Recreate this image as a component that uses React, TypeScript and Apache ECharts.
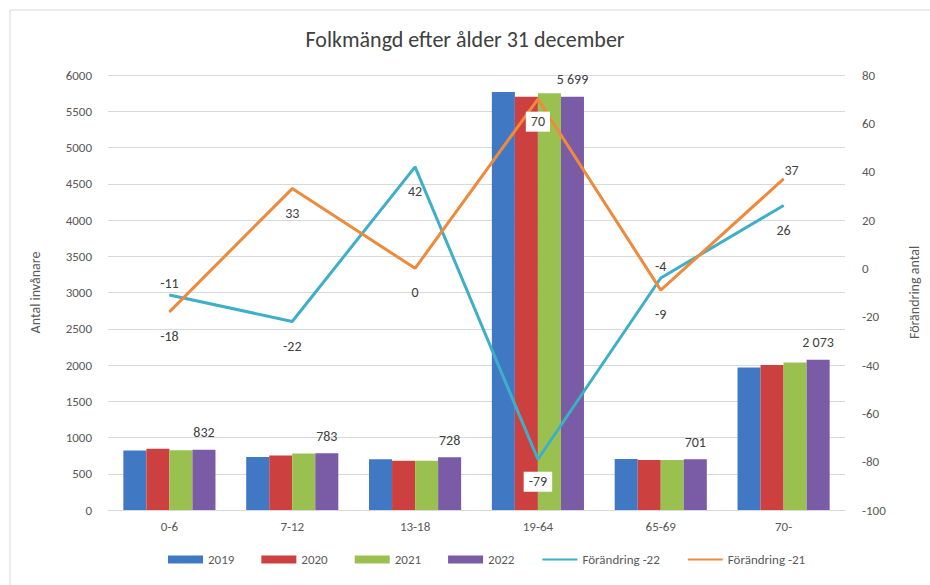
import React, { useEffect, useRef } from "react";
import * as echarts from "echarts";

const categories = ["0-6", "7-12", "13-18", "19-64", "65-69", "70-"];
const y2019 = [822, 730, 700, 5765, 705, 1965];
const y2020 = [845, 752, 680, 5700, 690, 2000];
const y2021 = [825, 780, 680, 5750, 690, 2035];
const y2022 = [832, 783, 728, 5699, 701, 2073];
const change22 = [-11, -22, 42, -79, -4, 26];
const change21 = [-18, 33, 0, 70, -9, 37];
const pos22 = ["top", "bottom", "bottom", "boxed", "top", "bottom"];
const pos21 = ["bottom", "bottom", "bottom", "boxed", "bottom", "topright"];

const FONT = "Carlito, Lato, sans-serif";
const TXT = "#404040";

function fmtThousands(v: number): string {
  return String(v).replace(/\B(?=(\d{3})+(?!\d))/g, " ");
}

function lineData(values: number[], positions: string[]) {
  return values.map((v, i) => {
    const p = positions[i];
    if (p === "boxed") {
      return {
        value: v,
        label: {
          position: "bottom",
          distance: 12,
          backgroundColor: "#ffffff",
          padding: [3, 5],
        },
      };
    }
    if (p === "top") {
      return { value: v, label: { position: "top", distance: 4 } };
    }
    if (p === "topright") {
      return { value: v, label: { position: "top", distance: 1, offset: [8, 0] } };
    }
    return { value: v, label: { position: "bottom", distance: 17 } };
  });
}

export default function App() {
  const ref = useRef<HTMLDivElement>(null);
  useEffect(() => {
    if (!ref.current) return;
    const chart = echarts.init(ref.current, null, { renderer: "svg" });
    const barSeries = (name: string, data: number[], color: string, withLabel: boolean) => ({
      name,
      type: "bar",
      data,
      yAxisIndex: 0,
      barGap: "0%",
      barCategoryGap: "25%",
      itemStyle: { color },
      label: withLabel
        ? {
            show: true,
            position: "top",
            distance: 10,
            color: TXT,
            fontSize: 14,
            fontFamily: FONT,
            formatter: (p: any) => fmtThousands(p.value),
          }
        : { show: false },
    });
    const lineSeries = (name: string, values: number[], positions: string[], color: string) => ({
      name,
      type: "line",
      yAxisIndex: 1,
      data: lineData(values, positions),
      symbol: "circle",
      symbolSize: 1,
      showSymbol: true,
      lineStyle: { color, width: 3 },
      itemStyle: { color },
      label: { show: true, color: TXT, fontSize: 14, fontFamily: FONT },
      z: 5,
    });
    chart.setOption({
      animation: false,
      backgroundColor: "#ffffff",
      textStyle: { fontFamily: FONT },
      title: {
        text: "Folkmängd efter ålder 31 december",
        left: "center",
        top: 23,
        textStyle: { color: TXT, fontSize: 22, fontWeight: "normal", fontFamily: FONT },
      },
      graphic: [
        {
          type: "rect",
          shape: { x: 10, y: 10, width: 940, height: 600 },
          style: { fill: "none", stroke: "#d9d9d9", lineWidth: 1 },
          silent: true,
        },
      ],
      grid: { left: 108, right: 85, top: 75, bottom: 75 },
      legend: {
        bottom: 14,
        left: 163,
        itemWidth: 35,
        itemHeight: 8,
        itemGap: 27,
        textStyle: { color: "#595959", fontSize: 13, fontFamily: FONT },
        data: [
          { name: "2019", icon: "rect" },
          { name: "2020", icon: "rect" },
          { name: "2021", icon: "rect" },
          { name: "2022", icon: "rect" },
          { name: "Förändring -22", itemStyle: { opacity: 0 } },
          { name: "Förändring -21", itemStyle: { opacity: 0 } },
        ],
      },
      xAxis: {
        type: "category",
        data: categories,
        axisLine: { lineStyle: { color: "#d9d9d9" } },
        axisTick: { show: false },
        axisLabel: { color: "#595959", fontSize: 13, margin: 10, fontFamily: FONT },
      },
      yAxis: [
        {
          type: "value",
          min: 0,
          max: 6000,
          interval: 500,
          name: "Antal invånare",
          nameLocation: "middle",
          nameGap: 66,
          nameRotate: 90,
          nameTextStyle: { color: "#595959", fontSize: 14, fontFamily: FONT },
          axisLine: { show: false },
          axisTick: { show: false },
          axisLabel: {
            color: "#595959",
            fontSize: 13,
            margin: 16,
            fontFamily: FONT,
            formatter: (v: number) => String(v),
          },
          splitLine: { lineStyle: { color: "#d9d9d9" } },
        },
        {
          type: "value",
          min: -100,
          max: 80,
          interval: 20,
          position: "right",
          name: "Förändring antal",
          nameLocation: "middle",
          nameGap: 62,
          nameRotate: 90,
          nameTextStyle: { color: "#595959", fontSize: 14, fontFamily: FONT },
          axisLine: { show: false },
          axisTick: { show: false },
          axisLabel: { color: "#595959", fontSize: 13, margin: 17, fontFamily: FONT },
          splitLine: { show: false },
        },
      ],
      series: [
        barSeries("2019", y2019, "#4178C4", false),
        barSeries("2020", y2020, "#CD4040", false),
        barSeries("2021", y2021, "#9AC150", false),
        barSeries("2022", y2022, "#7A5BA6", true),
        lineSeries("Förändring -22", change22, pos22, "#3DB0C8"),
        lineSeries("Förändring -21", change21, pos21, "#EE8A3C"),
      ],
    });
    return () => chart.dispose();
  }, []);
  return (
    <div
      ref={ref}
      style={{ position: "absolute", left: 0, top: 0, width: 930, height: 585 }}
    />
  );
}
